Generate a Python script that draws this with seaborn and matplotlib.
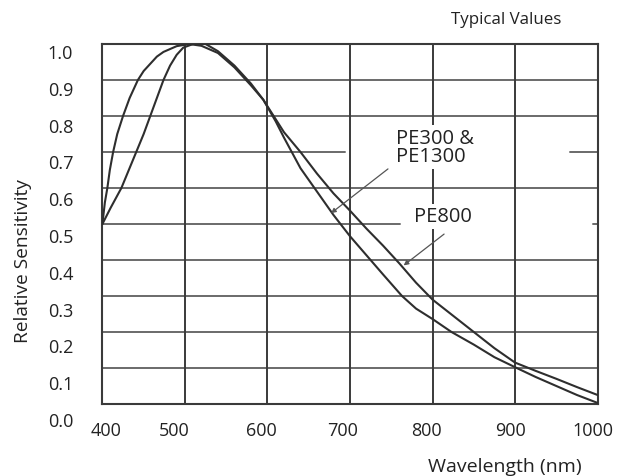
import numpy as np
import pandas as pd
import matplotlib
matplotlib.use("Agg")
import matplotlib.pyplot as plt
import matplotlib.transforms as mtransforms
import seaborn as sns

# ---- data ----
pe800_wl = [400, 403, 406, 409, 413, 418, 425, 433, 443, 450, 458, 466, 474, 490, 505,
            520, 540, 560, 580, 595, 620, 640, 660, 680, 700, 720, 740, 760, 780, 800,
            825, 850, 875, 900, 925, 950, 975, 1000]
pe800_val = [0.50, 0.56, 0.60, 0.65, 0.70, 0.75, 0.80, 0.85, 0.90, 0.925, 0.945, 0.965,
             0.978, 0.994, 1.0, 0.995, 0.975, 0.935, 0.885, 0.845, 0.755, 0.70, 0.64,
             0.585, 0.537, 0.487, 0.44, 0.39, 0.337, 0.29, 0.245, 0.20, 0.155, 0.115,
             0.092, 0.07, 0.047, 0.025]

pe300_wl = [400, 410, 423, 432, 441, 450, 458, 466, 474, 482, 490, 498, 510, 525,
            540, 560, 580, 595, 610, 620, 640, 660, 680, 700, 720, 740, 763, 780,
            800, 823, 850, 875, 902, 925, 950, 975, 1000]
pe300_val = [0.50, 0.545, 0.60, 0.65, 0.70, 0.75, 0.80, 0.85, 0.90, 0.94, 0.97, 0.99,
             1.0, 1.0, 0.98, 0.94, 0.89, 0.845, 0.785, 0.74, 0.655, 0.59, 0.525, 0.466,
             0.413, 0.36, 0.30, 0.265, 0.236, 0.20, 0.165, 0.13, 0.10, 0.075, 0.05,
             0.025, 0.003]

x_ticks = [400, 500, 600, 700, 800, 900, 1000]
y_ticks = [0.0, 0.1, 0.2, 0.3, 0.4, 0.5, 0.6, 0.7, 0.8, 0.9, 1.0]
x_tick_labels = ["400", "500", "600", "700", "800", "900", "1000"]
y_tick_labels = ["0.0", "0.1", "0.2", "0.3", "0.4", "0.5", "0.6", "0.7", "0.8", "0.9", "1.0"]

label_pe300 = "PE300 &\nPE1300"
label_pe800 = "PE800"
pe300_arrow_tip = (677, 0.53)
pe800_arrow_tip = (765, 0.385)

# ---- style ----
sns.set_style("white")
plt.rcParams["font.family"] = ["Open Sans", "DejaVu Sans"]

W, H = 622, 477
fig = plt.figure(figsize=(W / 100, H / 100), dpi=100)
ax = fig.add_axes([102.4 / W, 1 - 405 / H, (597.6 - 102.4) / W, 360 / H])

line_col = "#2e2e2e"
grid_h = "#6a6a6a"
grid_v = "#3a3a3a"
txt_col = "#222222"

# grid lines (horizontal, with the gaps seen in the scan)
for yv in y_ticks[1:-1]:
    if abs(yv - 0.7) < 1e-9:
        ax.axhline(yv, xmin=0, xmax=0.49, color=grid_h, lw=1.4, zorder=1)
        ax.axhline(yv, xmin=0.944, xmax=1, color=grid_h, lw=1.4, zorder=1)
    elif abs(yv - 0.5) < 1e-9:
        ax.axhline(yv, xmin=0, xmax=0.60, color=grid_h, lw=1.4, zorder=1)
        ax.axhline(yv, xmin=0.99, xmax=1, color=grid_h, lw=1.4, zorder=1)
    else:
        ax.axhline(yv, color=grid_h, lw=1.4, zorder=1)
for xv in x_ticks[1:-1]:
    ax.axvline(xv, color=grid_v, lw=1.4, zorder=1)

df = pd.concat([
    pd.DataFrame({"wl": pe800_wl, "val": pe800_val, "s": "PE800"}),
    pd.DataFrame({"wl": pe300_wl, "val": pe300_val, "s": "PE300"}),
])
sns.lineplot(data=df, x="wl", y="val", units="s", estimator=None, sort=False,
             color=line_col, lw=1.5, ax=ax, zorder=3)

ax.set_xlim(400, 1000)
ax.set_ylim(0, 1)
ax.set_xticks(x_ticks)
ax.set_xticklabels(x_tick_labels)
ax.set_yticks(y_ticks)
ax.set_yticklabels(y_tick_labels)
ax.tick_params(length=0, labelsize=13, colors=txt_col)
ax.tick_params(axis="y", pad=21)
ax.tick_params(axis="x", pad=12)
ax.set_xlabel("")
ax.set_ylabel("")

for sp in ax.spines.values():
    sp.set_color("#3a3a3a")
    sp.set_linewidth(1.5)

# shift tick labels like in the scan
for lab, v in zip(ax.get_yticklabels(), y_ticks):
    off = 7 + (1 - v) * 8
    lab.set_transform(lab.get_transform() +
                      mtransforms.ScaledTranslation(0, -off / 100, fig.dpi_scale_trans))
x_offsets = [4, -11, -6, -7, -6, -5, -5]
for lab, o in zip(ax.get_xticklabels(), x_offsets):
    lab.set_transform(lab.get_transform() +
                      mtransforms.ScaledTranslation(o / 100, 0, fig.dpi_scale_trans))

# annotations
ax.text(756, 0.768, label_pe300, ha="left", va="top", fontsize=14.5, color=txt_col,
        linespacing=0.9, zorder=5,
        bbox=dict(facecolor="white", edgecolor="none", pad=2))
ax.text(813, 0.521, label_pe800, ha="center", va="center", fontsize=14.5, color=txt_col,
        zorder=5, bbox=dict(facecolor="white", edgecolor="none", pad=2))
arrowprops = dict(arrowstyle="-|>", color="#555555", lw=0.9, mutation_scale=7,
                  shrinkA=0, shrinkB=0)
ax.annotate("", xy=pe300_arrow_tip, xytext=(746, 0.653), arrowprops=arrowprops, zorder=6)
ax.annotate("", xy=pe800_arrow_tip, xytext=(814, 0.472), arrowprops=arrowprops, zorder=6)

fig.text(23 / W, 1 - 261 / H, "Relative Sensitivity", rotation=90, ha="center",
         va="center", fontsize=13.8, color=txt_col)
fig.text(505 / W, 1 - 467 / H, "Wavelength (nm)", ha="center", va="center",
         fontsize=14, color=txt_col)
fig.text(561 / W, 1 - 20 / H, "Typical Values", ha="right", va="center",
         fontsize=12.2, color=txt_col)

fig.savefig("out.png", dpi=100, facecolor="white")
